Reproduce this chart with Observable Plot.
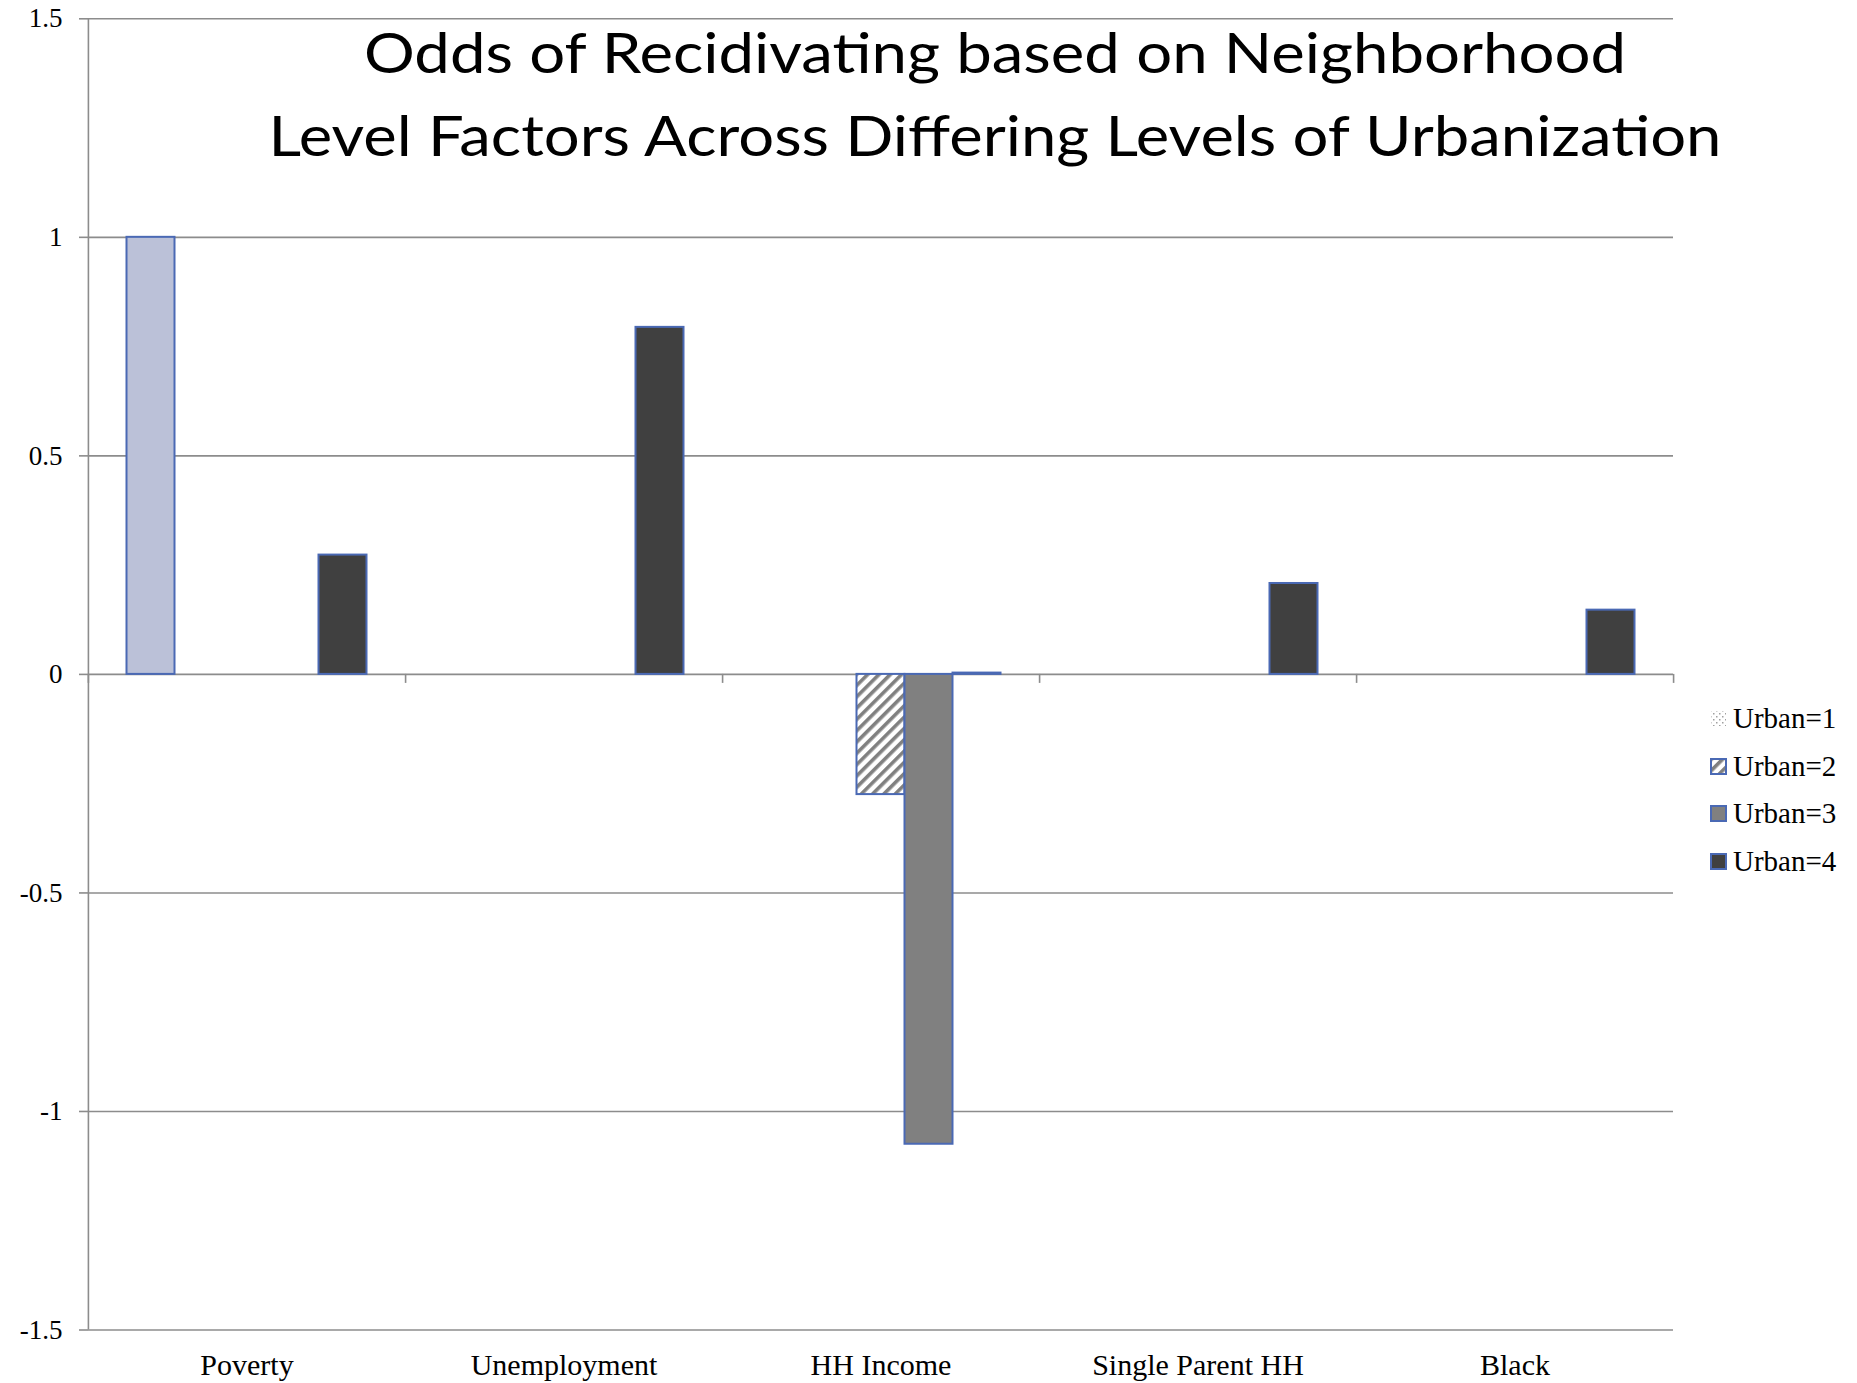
<!DOCTYPE html>
<html>
<head>
<meta charset="utf-8">
<script src="https://cdn.jsdelivr.net/npm/d3@7"></script>
<script src="https://cdn.jsdelivr.net/npm/@observablehq/plot@0.6"></script>
<style>
  html, body { margin: 0; padding: 0; background: #fff; }
  #wrap { position: relative; width: 1857px; height: 1383px; }
  #legend { position: absolute; left: 1710px; top: 0; font-family: "Liberation Serif", serif; font-size: 29px; color: #000; }
  #legend .item { position: absolute; left: 0; height: 30px; display: flex; align-items: center; white-space: nowrap; }
  #legend .item svg { margin-right: 6px; flex: none; }
</style>
</head>
<body>
<svg width="0" height="0" style="position:absolute">
  <defs>
    <pattern id="hatch" patternUnits="userSpaceOnUse" width="8" height="8" patternTransform="rotate(45)">
      <rect width="8" height="8" fill="#fff"></rect>
      <rect x="0" y="0" width="3.6" height="8" fill="#808080"></rect>
    </pattern>
    <pattern id="dots" patternUnits="userSpaceOnUse" width="6" height="6">
      <rect width="6" height="6" fill="#fff"></rect>
      <rect x="0" y="0" width="1.5" height="1.5" fill="#a0a0a0"></rect>
      <rect x="3" y="3" width="1.5" height="1.5" fill="#a0a0a0"></rect>
    </pattern>
  </defs>
</svg>
<div id="wrap"></div>
<script>
// Neighborhood-level factors along the x axis
const categories = ["Poverty", "Unemployment", "HH Income", "Single Parent HH", "Black"];

// Series (one bar slot per series inside each factor group)
const seriesNames = ["Overall", "Urban=1", "Urban=2", "Urban=3", "Urban=4"];
const legendNames = ["Urban=1", "Urban=2", "Urban=3", "Urban=4"];

// Values per series, aligned with categories (null = no bar)
const overallValues = [1.0, null, null, null, null];
const urban1Values  = [null, null, null, null, null];
const urban2Values  = [null, null, -0.275, null, null];
const urban3Values  = [null, null, -1.075, null, null];
const urban4Values  = [0.273, 0.794, 0.003, 0.208, 0.147];

// Y axis ticks
const yTicks = [-1.5, -1, -0.5, 0, 0.5, 1, 1.5];

const titleLines = [
  "Odds of Recidivating based on Neighborhood",
  "Level Factors Across Differing Levels of Urbanization"
];

// Fills for each series
const seriesFills = ["#bbc1d8", "url(#dots)", "url(#hatch)", "#808080", "#404040"];
const barStroke = "#4a69b4";
const gridColor = "#8c8c8c";

const valueTable = [overallValues, urban1Values, urban2Values, urban3Values, urban4Values];
const rows = [];
seriesNames.forEach((s, si) => {
  categories.forEach((c, ci) => {
    const v = valueTable[si][ci];
    if (v != null) rows.push({category: c, series: s, value: v});
  });
});

const W = 1857, H = 1383;
const ml = 87.5, mr = 183.6, mt = 18.3, mb = 53.5;
const fw = (W - ml - mr) / categories.length;

const chart = Plot.plot({
  width: W,
  height: H,
  marginLeft: ml,
  marginRight: mr,
  marginTop: mt,
  marginBottom: mb,
  style: {fontFamily: '"Liberation Serif", serif', background: "#fff", color: "#000"},
  fx: {domain: categories, padding: 0, label: null},
  x: {domain: seriesNames, paddingInner: 0, paddingOuter: 0.747, axis: null},
  y: {domain: [-1.5, 1.5]},
  color: {domain: seriesNames, range: seriesFills},
  marks: [
    Plot.ruleY(yTicks, {stroke: gridColor, strokeWidth: 1.6}),
    Plot.barY(rows, {fx: "category", x: "series", y: "value", fill: "series", stroke: barStroke, strokeWidth: 2}),
    // short ticks hanging below the zero line at group boundaries
    Plot.ruleX(categories, {fx: d => d, x: null, y1: 0, y2: 0, insetBottom: -9, dx: fw / 2, stroke: gridColor, strokeWidth: 1.6}),
    Plot.ruleX(categories.slice(0, 1), {fx: d => d, x: null, y1: 0, y2: 0, insetBottom: -9, dx: -fw / 2, stroke: gridColor, strokeWidth: 1.6}),
    // vertical value axis line
    Plot.ruleX(categories.slice(0, 1), {fx: d => d, x: null, dx: -fw / 2, stroke: gridColor, strokeWidth: 1.6}),
    Plot.axisY({ticks: yTicks, tickSize: 9, tickPadding: 17, tickFormat: d => String(d), fontSize: 27, stroke: gridColor, strokeWidth: 1.6, fill: "#000", label: null}),
    Plot.axisFx({anchor: "bottom", tickSize: 0, tickPadding: 24, fontSize: 30, label: null, fill: "#000"}),
    Plot.text([titleLines[0]], {fx: () => "HH Income", text: d => d, frameAnchor: "top", lineAnchor: "top", textAnchor: "middle", dx: 114, dy: 14.4, fontFamily: "Lato", fontSize: 56, fill: "#000"}),
    Plot.text([titleLines[1]], {fx: () => "HH Income", text: d => d, frameAnchor: "top", lineAnchor: "top", textAnchor: "middle", dx: 114, dy: 97.7, fontFamily: "Lato", fontSize: 56, fill: "#000"})
  ]
});

// fit each title line to its set width
const titleWidths = [1262, 1453];
chart.querySelectorAll("text").forEach(t => {
  const k = titleLines.indexOf(t.textContent);
  if (k >= 0) {
    t.setAttribute("textLength", titleWidths[k]);
    t.setAttribute("lengthAdjust", "spacingAndGlyphs");
  }
});

const wrap = document.getElementById("wrap");
chart.style.position = "absolute";
chart.style.left = "0";
chart.style.top = "0";
wrap.appendChild(chart);

// legend
const legend = document.createElement("div");
legend.id = "legend";
const rowCenters = [718, 766, 813, 861];
legendNames.forEach((name, i) => {
  const item = document.createElement("div");
  item.className = "item";
  item.style.top = (rowCenters[i] - 15) + "px";
  const fill = seriesFills[seriesNames.indexOf(name)];
  const bordered = name !== "Urban=1";
  item.innerHTML =
    `<svg width="17" height="17"><rect x="1" y="1" width="15" height="15" fill="${fill}" ` +
    (bordered ? `stroke="${barStroke}" stroke-width="2"` : `stroke="none"`) + `></rect></svg><span>${name}</span>`;
  legend.appendChild(item);
});
wrap.appendChild(legend);
</script>
</body>
</html>
